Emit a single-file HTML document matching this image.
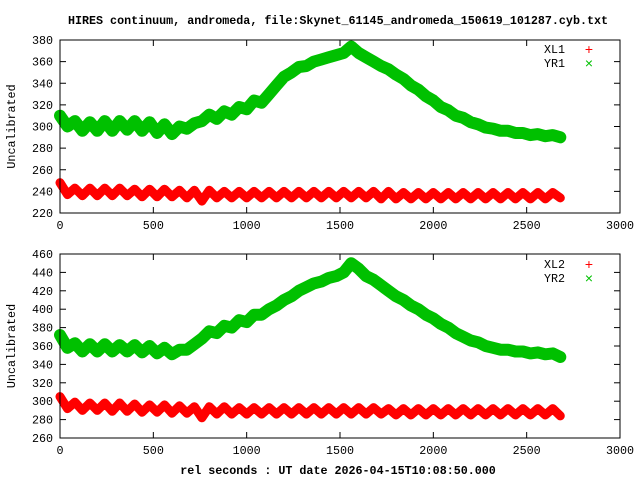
<!DOCTYPE html>
<html><head><meta charset="utf-8"><style>
body{margin:0;background:#fff}
svg text{font-family:"Liberation Mono","DejaVu Sans Mono",monospace;font-size:11.7px;fill:#000}
</style></head><body>
<svg id="chart" width="640" height="480" xmlns="http://www.w3.org/2000/svg">
<rect width="640" height="480" fill="#fff"/>
<text x="338" y="24" text-anchor="middle" font-weight="bold">HIRES continuum, andromeda, file:Skynet_61145_andromeda_150619_101287.cyb.txt</text>
<text x="338" y="474" text-anchor="middle" font-weight="bold">rel seconds : UT date 2026-04-15T10:08:50.000</text>
<g id="p1"></g><g id="p2"></g>
</svg>
<script>
const step = 40;
const xTicks = [0,500,1000,1500,2000,2500,3000];
const yTicksTop = [220,240,260,280,300,320,340,360,380];
const yTicksBot = [260,280,300,320,340,360,380,400,420,440,460];
const XL1 = [248,237,243,236,243,236,243,236,243,236, 242,235,242,235,242,235,241,234,241,231, 241,234,240,234,240,234,240,234,240,234, 240,234,240,234,240,234,240,234,240,234, 240,234,240,233,240,233,239,233,239,233, 239,233,239,233,239,233,239,233,239,233, 239,233,239,233,239,233,239,234];
const YR1 = [310,300,305,296,304,296,305,296,305,297, 305,296,304,294,302,293,300,298,303,305, 311,307,314,311,318,316,324,322,330,338, 346,350,355,356,360,362,364,366,368,374, 368,364,360,356,353,348,344,338,334,328, 324,318,315,310,308,304,302,299,298,296, 296,294,294,292,293,291,292,290];
const XL2 = [305,292,299,290,298,290,298,289,298,289, 297,288,296,288,296,287,295,287,294,282, 294,286,294,286,293,286,293,286,293,286, 293,286,293,286,293,286,293,286,293,286, 293,286,293,286,292,285,292,285,292,285, 292,285,292,285,292,285,292,285,292,285, 292,285,292,285,292,285,292,284];
const YR2 = [372,358,363,354,362,354,362,354,361,354, 361,353,360,352,358,351,356,356,362,368, 376,374,382,380,388,386,394,394,400,404, 410,414,420,424,428,430,434,436,440,450, 444,436,432,426,420,414,410,404,400,394, 390,384,380,374,370,366,364,360,358,356, 356,354,354,352,353,351,352,348];
const NS='http://www.w3.org/2000/svg';
function mk(tag,attrs,parent){const e=document.createElementNS(NS,tag);for(const k in attrs)e.setAttribute(k,attrs[k]);parent.appendChild(e);return e;}
function panel(g,top,bot,ymin,ymax,yTicks,s1,s2,n1,n2,legY){
  const L=60,R=620;
  const xs=v=>L+(v-0)/(3000-0)*(R-L);
  const ys=v=>bot-(v-ymin)/(ymax-ymin)*(bot-top);
  yTicks.forEach(v=>{
    const y=ys(v);
    const t=mk('line',{x1:L,x2:L+6,y1:y,y2:y,stroke:'#000'},g);
    
    
    mk('line',{x1:R-6,x2:R,y1:y,y2:y,stroke:'#000'},g);
    const tx=mk('text',{x:53,y:y+4,'text-anchor':'end'},g);tx.textContent=v;
    
    
  });
  xTicks.forEach(v=>{
    const x=xs(v);
    mk('line',{x1:x,x2:x,y1:bot,y2:bot-6,stroke:'#000'},g);
    mk('line',{x1:x,x2:x,y1:top,y2:top+6,stroke:'#000'},g);
    const tx=mk('text',{x:x,y:bot+16,'text-anchor':'middle'},g);tx.textContent=v;
    
    
  });
  const yl=mk('text',{x:0,y:0,'text-anchor':'middle',transform:`translate(15,${(top+bot)/2}) rotate(-90)`},g);
  yl.textContent='Uncalibrated';
  
  
  [[s2,'#00c000',n2,'x',12],[s1,'#ff0000',n1,'+',9]].forEach(([d,c,n,m,w])=>{
    const pts=d.map((v,i)=>xs(i*step).toFixed(1)+','+ys(v).toFixed(1)).join(' ');
    const pl=mk('polyline',{points:pts,fill:'none',stroke:c,'stroke-width':w,'stroke-linejoin':'round','stroke-linecap':'round'},g);
    
    
  });
  const box=mk('rect',{x:L,y:top,width:R-L,height:bot-top,fill:'none',stroke:'#000'},g);
  
  
  [[n1,'#ff0000','+',legY],[n2,'#00c000','×',legY+14]].forEach(([n,c,m,y])=>{
    const t=mk('text',{x:565,y:y+4,'text-anchor':'end'},g);t.textContent=n;
    
    
    const s=mk('text',{x:589,y:y+5,'text-anchor':'middle',style:`fill:${c};font-size:14px`},g);s.textContent=m;
    
    
  });
}
panel(document.getElementById('p1'),40,213,220,380,yTicksTop,XL1,YR1,'XL1','YR1',49);
panel(document.getElementById('p2'),254,438,260,460,yTicksBot,XL2,YR2,'XL2','YR2',264);
</script>
</body></html>
